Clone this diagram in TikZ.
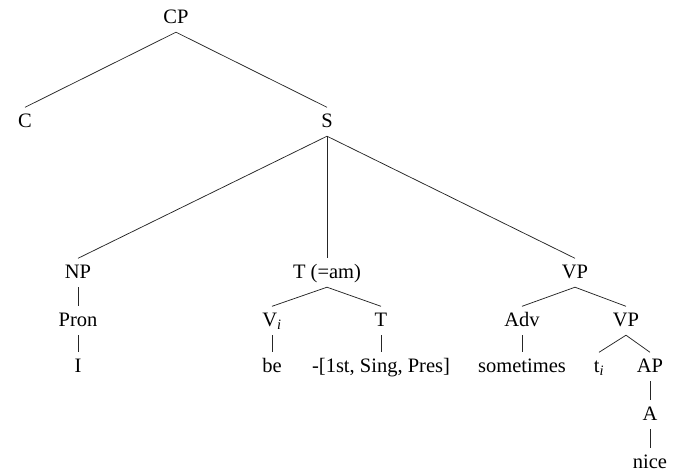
\documentclass[tikz,border=0pt]{standalone}
\usepackage{fontspec}
\setmainfont{Liberation Serif}
\usetikzlibrary{positioning}

\begin{document}
\begin{tikzpicture}[x=1pt, y=-1pt,
  cat/.style={font=\fontsize{20.5}{24}\selectfont, anchor=base, inner xsep=2pt, inner ysep=6pt, text height=13.5pt, text depth=3pt},
  br/.style={black!85, line width=0.75pt},
]
\useasboundingbox (0,0) rectangle (674,472);
% upper part of the tree
\node[cat] (cp) at (176,23) {CP};
\node[cat] (c) at (25,127) {C};
\node[cat] (s) at (327,127) {S};
\node[cat] (np) at (78,278) {NP};
\node[cat] (tam) at (327,278) {T (=am)};
\node[cat] (vp) at (575,278) {VP};
% subject
\node[cat] (pron) at (78,326) {Pron};
\node[cat] (pr) at (78,372) {I};
% inflection
\node[cat] (vi) at (272,326) {V\textsubscript{\textit{i}}};
\node[cat] (tinf) at (381,326) {T};
\node[cat] (be) at (272,372) {be};
\node[cat] (infl) at (381,372) {-[1st, Sing, Pres]};
% predicate
\node[cat] (adv) at (522,326) {Adv};
\node[cat] (vp2) at (626,326) {VP};
\node[cat] (some) at (522,372) {sometimes};
\node[cat] (ti) at (599,372) {t\textsubscript{\textit{i}}};
\node[cat] (ap) at (650,372) {AP};
\node[cat] (a) at (650,420) {A};
\node[cat] (nice) at (650,468) {nice};

\foreach \p/\d in {cp/c, cp/s, s/np, s/tam, s/vp, np/pron, pron/pr,
    tam/vi, tam/tinf, vi/be, tinf/infl, vp/adv, vp/vp2, adv/some,
    vp2/ti, vp2/ap, ap/a, a/nice}
  \draw[br] (\p.south) -- (\d.north);
\end{tikzpicture}
\end{document}
